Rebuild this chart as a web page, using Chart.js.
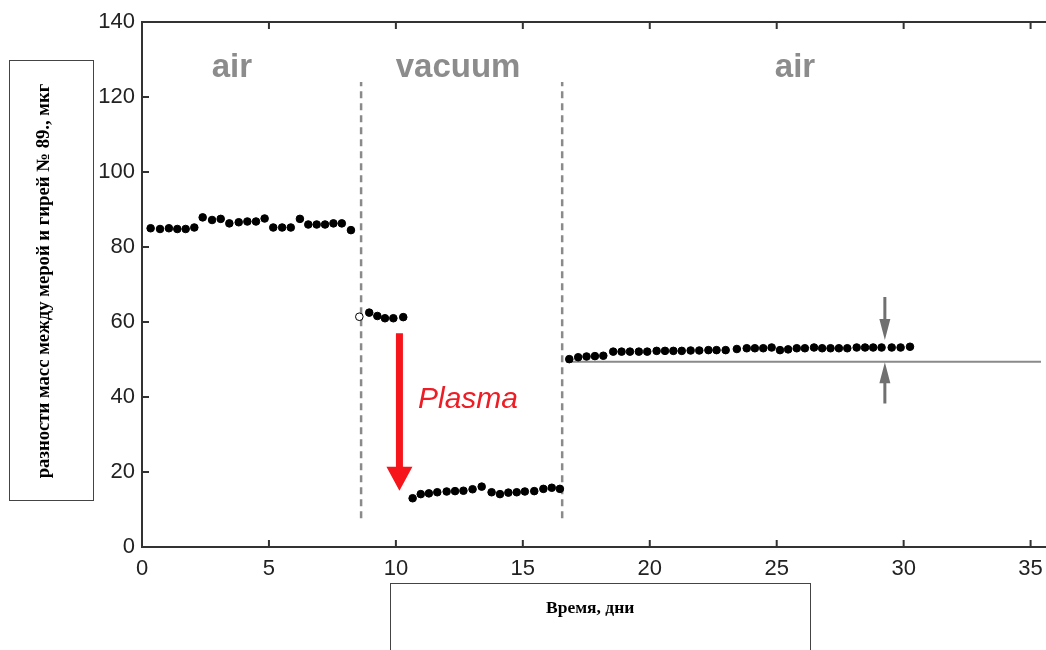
<!DOCTYPE html>
<html>
<head>
<meta charset="utf-8">
<script src="https://cdn.jsdelivr.net/npm/chart.js@4.4.0/dist/chart.umd.min.js"></script>
<style>
body { margin: 0; background: #fff; }
#wrap { position: relative; width: 1046px; height: 650px; overflow: hidden; background: #fff; }
#ybox { position: absolute; left: 9px; top: 60px; width: 85px; height: 441px; border: 1px solid #444; box-sizing: border-box; }
#ybox span { position: absolute; left: 33px; top: 220px; transform: translate(-50%, -50%) rotate(-90deg); white-space: nowrap; font: bold 18.7px "Liberation Serif", serif; color: #000; }
#xbox { position: absolute; left: 390px; top: 583px; width: 421px; height: 80px; border: 1px solid #444; box-sizing: border-box; }
#xbox span { position: absolute; left: 155px; top: 13px; white-space: nowrap; font: bold 17.5px "Liberation Serif", serif; color: #000; }
canvas { position: absolute; left: 0; top: 0; }
</style>
</head>
<body>
<div id="wrap">
	<canvas id="mycanvas" width="1046" height="650"></canvas>
	<div id="ybox"><span>разности масс между мерой и гирей № 89., мкг</span></div>
	<div id="xbox"><span>Время, дни</span></div>
</div>
<script>
// days / mass difference
var airDays1 = [0.34, 0.71, 1.06, 1.39, 1.72, 2.06, 2.39, 2.76, 3.10, 3.44, 3.81, 4.15, 4.49, 4.83, 5.17, 5.52, 5.86, 6.22, 6.55, 6.88, 7.21, 7.54, 7.87, 8.23];
var airMass1 = [85.0, 84.8, 85.0, 84.8, 84.8, 85.2, 87.9, 87.2, 87.5, 86.3, 86.6, 86.8, 86.8, 87.6, 85.2, 85.2, 85.2, 87.5, 86.0, 86.0, 86.0, 86.3, 86.3, 84.5];

var vacDays1 = [8.56, 8.95, 9.27, 9.57, 9.90, 10.29];
var vacMass1 = [61.4, 62.5, 61.6, 61.0, 61.0, 61.3];

var vacDays2 = [10.66, 10.98, 11.30, 11.63, 12.00, 12.33, 12.66, 13.02, 13.38, 13.77, 14.10, 14.43, 14.76, 15.08, 15.45, 15.81, 16.14, 16.46];
var vacMass2 = [13.0, 14.1, 14.3, 14.6, 14.8, 14.9, 15.0, 15.4, 16.1, 14.6, 14.1, 14.5, 14.6, 14.8, 14.9, 15.5, 15.8, 15.5];

var airDays2 = [16.83, 17.18, 17.51, 17.84, 18.17, 18.56, 18.89, 19.22, 19.57, 19.90, 20.27, 20.60, 20.93, 21.26, 21.61, 21.95, 22.31, 22.63, 22.99, 23.43,
	23.82, 24.14, 24.47, 24.80, 25.13, 25.45, 25.79, 26.11, 26.47, 26.79, 27.12, 27.45, 27.78, 28.15, 28.48, 28.80, 29.13, 29.53, 29.88, 30.25];
var airMass2 = [50.1, 50.6, 50.8, 50.9, 51.0, 52.1, 52.1, 52.1, 52.1, 52.1, 52.3, 52.3, 52.3, 52.3, 52.4, 52.4, 52.5, 52.5, 52.5, 52.8,
	53.0, 53.0, 53.0, 53.2, 52.5, 52.7, 53.0, 53.0, 53.2, 53.0, 53.0, 53.0, 53.0, 53.2, 53.2, 53.2, 53.2, 53.2, 53.2, 53.4];

var xTicks = [0, 5, 10, 15, 20, 25, 30, 35];
var yTicks = [0, 20, 40, 60, 80, 100, 120, 140];
var xMax = 35.41;

// annotations, in data units
var switchDays = [8.63, 16.55];
var switchFrom = 7.7, switchTo = 124;
var baseLevel = 49.4, baseFrom = 16.7;
var phases = [["air", 3.54], ["vacuum", 12.45], ["air", 25.72]];
var phaseY = 127.8;
var plasmaX = 10.14, plasmaFrom = 57, plasmaTo = 15;
var plasmaText = "Plasma", plasmaTextX = 12.84, plasmaTextY = 39.3;
var gapX = 29.26, gapTop = [66.7, 55.2], gapBottom = [38.3, 49.3];

function pts(xs, ys) {
	var out = [];
	for (var i in xs) out.push({x: xs[i], y: ys[i]});
	return out;
}

function arrow(ctx, px, y0, y1, shaftW, headW, headH, color) {
	var dir = y1 > y0 ? 1 : -1;
	var hb = y1 - dir * headH;
	ctx.fillStyle = color;
	ctx.beginPath();
	ctx.moveTo(px - shaftW / 2, y0);
	ctx.lineTo(px + shaftW / 2, y0);
	ctx.lineTo(px + shaftW / 2, hb);
	ctx.lineTo(px + headW / 2, hb);
	ctx.lineTo(px, y1);
	ctx.lineTo(px - headW / 2, hb);
	ctx.lineTo(px - shaftW / 2, hb);
	ctx.closePath();
	ctx.fill();
}

var extras = {
	id: 'extras',
	afterDraw: function(chart) {
		var ctx = chart.ctx, sx = chart.scales.x, sy = chart.scales.y, a = chart.chartArea;
		ctx.save();
		// frame
		ctx.strokeStyle = "#333";
		ctx.lineWidth = 2;
		ctx.beginPath();
		ctx.moveTo(1046, a.top); ctx.lineTo(a.left, a.top); ctx.lineTo(a.left, a.bottom); ctx.lineTo(1046, a.bottom);
		ctx.stroke();
		// inward ticks
		ctx.beginPath();
		xTicks.forEach(function(t) {
			if (t === 0) return;
			var px = sx.getPixelForValue(t);
			ctx.moveTo(px, a.bottom); ctx.lineTo(px, a.bottom - 7);
			ctx.moveTo(px, a.top); ctx.lineTo(px, a.top + 7);
		});
		yTicks.forEach(function(t) {
			if (t === 0 || t === 140) return;
			var py = sy.getPixelForValue(t);
			ctx.moveTo(a.left, py); ctx.lineTo(a.left + 7, py);
		});
		ctx.stroke();

		// phase labels
		ctx.fillStyle = "#8c8c8c";
		ctx.font = "bold 33px 'Liberation Sans', Arial, sans-serif";
		ctx.textAlign = "center";
		ctx.textBaseline = "middle";
		phases.forEach(function(p) {
			ctx.fillText(p[0], sx.getPixelForValue(p[1]), sy.getPixelForValue(phaseY));
		});

		// plasma arrow + text
		arrow(ctx, sx.getPixelForValue(plasmaX), sy.getPixelForValue(plasmaFrom), sy.getPixelForValue(plasmaTo), 7, 26, 24, "#f5151b");
		ctx.fillStyle = "#ee1c24";
		ctx.font = "italic 30px 'Liberation Sans', Arial, sans-serif";
		ctx.fillText(plasmaText, sx.getPixelForValue(plasmaTextX), sy.getPixelForValue(plasmaTextY));

		// gap arrows
		var gx = sx.getPixelForValue(gapX);
		arrow(ctx, gx, sy.getPixelForValue(gapTop[0]), sy.getPixelForValue(gapTop[1]), 3, 11, 21, "#707070");
		arrow(ctx, gx, sy.getPixelForValue(gapBottom[0]), sy.getPixelForValue(gapBottom[1]), 3, 11, 21, "#707070");
		ctx.restore();
	}
};

var dotStyle = {
	type: 'scatter',
	pointRadius: 3.8,
	pointBorderWidth: 1,
	pointBorderColor: "#000",
	pointBackgroundColor: "#000",
	showLine: false
};

var chartdata = {
	datasets: [
		Object.assign({}, dotStyle, {label: "air 1", data: pts(airDays1, airMass1)}),
		Object.assign({}, dotStyle, {label: "vacuum 1", data: pts(vacDays1, vacMass1),
			pointBackgroundColor: vacDays1.map(function(d, i) { return i === 0 ? "#fff" : "#000"; })}),
		Object.assign({}, dotStyle, {label: "vacuum 2", data: pts(vacDays2, vacMass2)}),
		Object.assign({}, dotStyle, {label: "air 2", data: pts(airDays2, airMass2)}),
		{
			type: 'line', label: "level", data: [{x: baseFrom, y: baseLevel}, {x: xMax, y: baseLevel}],
			borderColor: "#8a8a8a", borderWidth: 2, pointRadius: 0, fill: false
		},
		{
			type: 'line', label: "switch 1", data: [{x: switchDays[0], y: switchFrom}, {x: switchDays[0], y: switchTo}],
			borderColor: "#8a8a8a", borderWidth: 2.5, borderDash: [7, 5], pointRadius: 0, fill: false
		},
		{
			type: 'line', label: "switch 2", data: [{x: switchDays[1], y: switchFrom}, {x: switchDays[1], y: switchTo}],
			borderColor: "#8a8a8a", borderWidth: 2.5, borderDash: [7, 5], pointRadius: 0, fill: false
		}
	]
};

var ctx = document.getElementById("mycanvas");

var MassChart = new Chart(ctx, {
	type: 'scatter',
	data: chartdata,
	plugins: [extras],
	options: {
		responsive: false,
		animation: false,
		devicePixelRatio: 1,
		layout: {padding: {left: 0, top: 22, right: 0, bottom: 0}},
		plugins: {legend: {display: false}, tooltip: {enabled: false}},
		scales: {
			x: {
				type: 'linear', min: 0, max: xMax,
				grid: {display: false, drawTicks: false},
				border: {display: false},
				afterFit: function(s) { s.height = 103; s.paddingLeft = 0; s.paddingRight = 0; },
				afterBuildTicks: function(s) { s.ticks = xTicks.map(function(v) { return {value: v}; }); },
				ticks: {color: "#222", padding: 9, maxRotation: 0, font: {family: "'Liberation Sans', Arial", size: 22}}
			},
			y: {
				min: 0, max: 140,
				grid: {display: false, drawTicks: false},
				border: {display: false},
				afterFit: function(s) { s.width = 142; s.paddingTop = 0; s.paddingBottom = 0; },
				afterBuildTicks: function(s) { s.ticks = yTicks.map(function(v) { return {value: v}; }); },
				ticks: {color: "#222", padding: 7, font: {family: "'Liberation Sans', Arial", size: 22}}
			}
		}
	}
});
</script>
</body>
</html>
